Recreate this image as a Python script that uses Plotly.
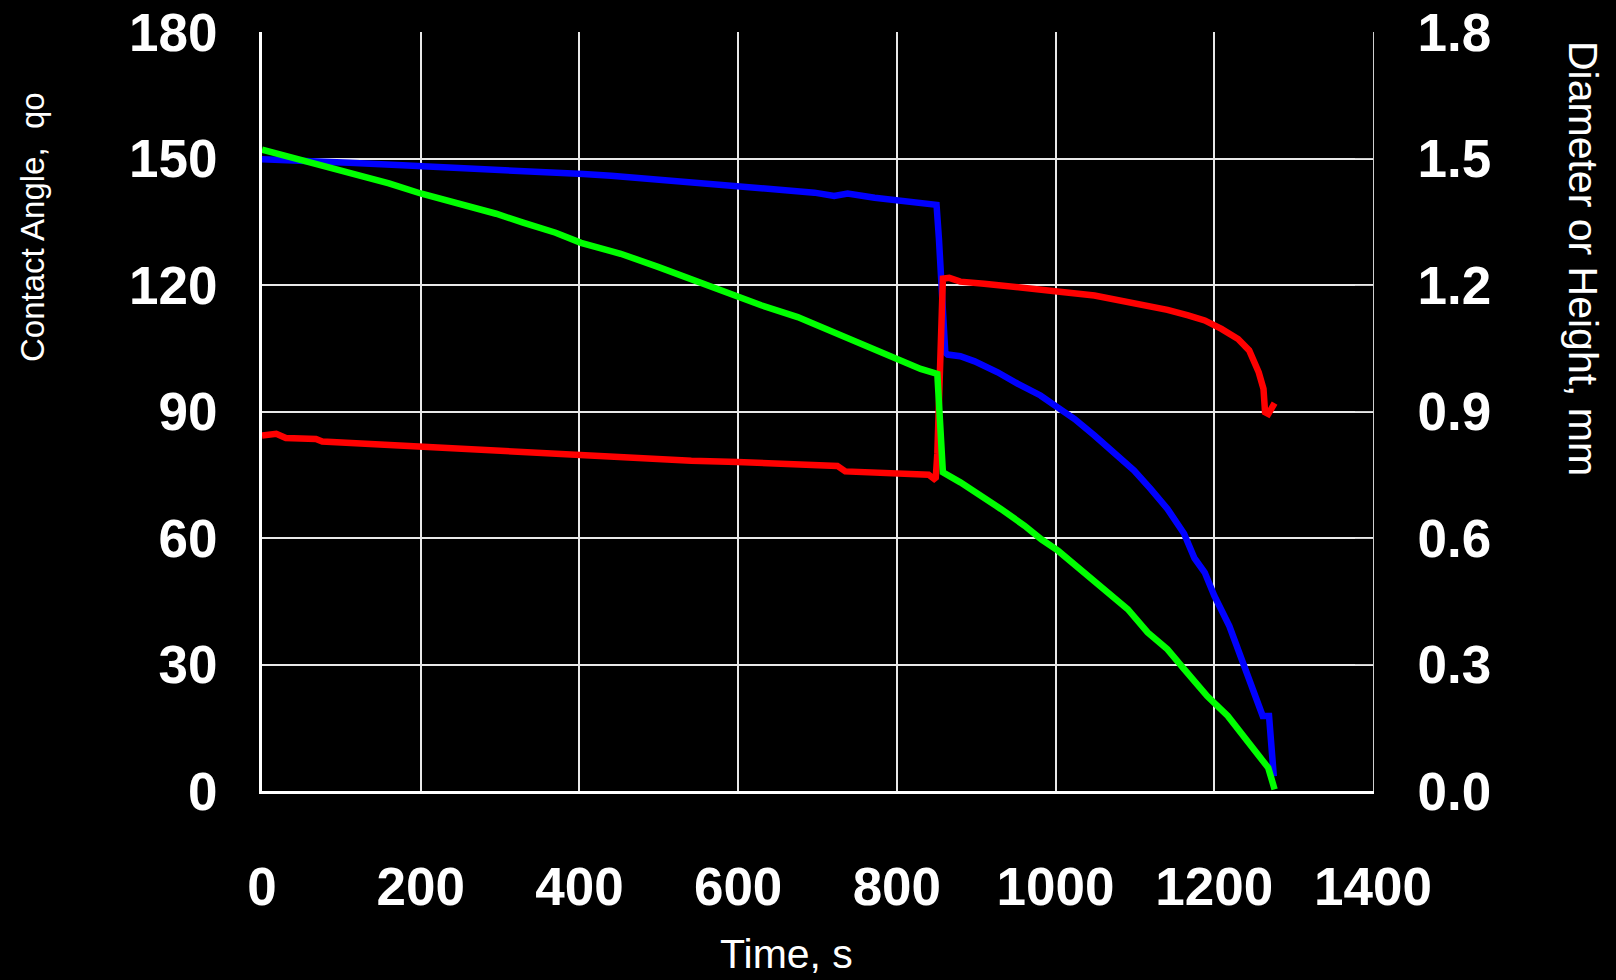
import plotly.graph_objects as go

# ---- data ----
angle_t = [0, 18, 30, 68, 76, 114, 160, 207, 261, 320, 379, 427, 478, 541, 599, 671, 725, 735, 800,
           840, 847, 849, 851, 856, 858, 866, 880, 910, 939, 973, 1011, 1049, 1083, 1112, 1141, 1167,
           1188, 1209, 1230, 1244, 1256, 1262, 1264, 1268, 1276]
angle_deg = [84.3, 84.7, 83.7, 83.5, 82.9, 82.5, 82.1, 81.5, 80.9, 80.5, 79.9, 79.5, 78.9, 78.3, 78.0,
             77.6, 77.1, 75.8, 75.5, 75.0, 74.0, 74.3, 80.0, 110.0, 121.5, 121.7, 120.8, 120.3, 119.8,
             119.0, 118.3, 117.5, 116.3, 115.2, 114.1, 112.8, 111.6, 109.6, 107.2, 104.5, 99.3, 95.4,
             89.8, 89.4, 92.0]

diam_t = [0, 80, 110, 177, 240, 299, 350, 405, 440, 478, 524, 553, 583, 612, 654, 696, 721, 738, 772,
          801, 818, 850, 853, 855, 858, 861, 864, 880, 898, 927, 952, 981, 1003, 1024, 1049, 1074, 1099,
          1120, 1141, 1162, 1175, 1188, 1200, 1219, 1225, 1238, 1246, 1261, 1269, 1271, 1273, 1275]
diam_mm = [1.498, 1.494, 1.490, 1.484, 1.479, 1.474, 1.468, 1.463, 1.459, 1.453, 1.447, 1.442, 1.437,
           1.432, 1.426, 1.419, 1.411, 1.417, 1.407, 1.400, 1.395, 1.390, 1.31, 1.22, 1.10, 1.04, 1.035,
           1.031, 1.019, 0.993, 0.966, 0.938, 0.909, 0.882, 0.843, 0.803, 0.760, 0.716, 0.669, 0.610,
           0.552, 0.518, 0.463, 0.391, 0.360, 0.296, 0.249, 0.178, 0.178, 0.138, 0.075, 0.035]

height_t = [0, 34, 76, 118, 160, 200, 244, 295, 329, 370, 402, 452, 499, 545, 578, 629, 675, 725, 759,
            788, 818, 830, 851, 858, 880, 910, 931, 961, 982, 1003, 1036, 1061, 1091, 1116, 1141, 1162,
            1191, 1217, 1243, 1268, 1276]
height_mm = [1.521, 1.504, 1.483, 1.460, 1.441, 1.417, 1.395, 1.369, 1.348, 1.324, 1.300, 1.274, 1.243,
             1.211, 1.185, 1.152, 1.124, 1.084, 1.058, 1.037, 1.013, 1.001, 0.989, 0.756, 0.732, 0.696,
             0.669, 0.629, 0.597, 0.570, 0.518, 0.479, 0.431, 0.376, 0.336, 0.289, 0.225, 0.178, 0.114,
             0.055, 0.004]

x_ticks = [0, 200, 400, 600, 800, 1000, 1200, 1400]
angle_ticks = [0, 30, 60, 90, 120, 150, 180]
mm_ticks = [0.0, 0.3, 0.6, 0.9, 1.2, 1.5, 1.8]
mm_labels = ["0.0", "0.3", "0.6", "0.9", "1.2", "1.5", "1.8"]
grid_ticks = [0.3, 0.6, 0.9, 1.2, 1.5]

# ---- styling ----
W, H = 1616, 980
L, R, T, B = 262, 1373, 32, 791
tick_font = dict(family="Liberation Sans, Arial, sans-serif", size=53, color="white", weight="bold")
title_family = "Liberation Sans, Arial, sans-serif"
LW = 6.5

fig = go.Figure()
fig.add_trace(go.Scatter(x=diam_t, y=diam_mm, mode="lines", line=dict(color="#0000FF", width=LW),
                         xaxis="x", yaxis="y", showlegend=False))
fig.add_trace(go.Scatter(x=angle_t, y=angle_deg, mode="lines", line=dict(color="#FF0000", width=LW),
                         xaxis="x", yaxis="y2", showlegend=False))
fig.add_trace(go.Scatter(x=height_t, y=height_mm, mode="lines", line=dict(color="#00FF00", width=LW),
                         xaxis="x", yaxis="y3", showlegend=False))

fig.update_layout(
    width=W, height=H,
    paper_bgcolor="black", plot_bgcolor="black",
    margin=dict(l=L, r=W - R, t=T, b=H - B, pad=0),
    xaxis=dict(range=[0, 1400], tickvals=x_ticks, showgrid=True, gridcolor="#e8e8e8", gridwidth=2,
               showline=True, linecolor="white", linewidth=3, ticks="", zeroline=False,
               tickfont=tick_font, ticklabelstandoff=47, automargin=False),
    yaxis=dict(range=[0, 1.8], tickvals=mm_ticks, ticktext=mm_labels, side="right",
               showgrid=False, zeroline=False, showline=True, linecolor="#cfcfcf", linewidth=1,
               ticks="inside", ticklen=18, tickcolor="#cfcfcf", tickwidth=1,
               tickfont=tick_font, ticklabelstandoff=33, automargin=False),
    yaxis2=dict(range=[0, 180], tickvals=angle_ticks, overlaying="y", side="left",
                showgrid=False, zeroline=False, showline=True, linecolor="white", linewidth=3,
                ticks="", tickfont=tick_font, ticklabelstandoff=31, automargin=False),
    yaxis3=dict(range=[0, 1.8], tickvals=grid_ticks, overlaying="y", side="right",
                showgrid=True, gridcolor="#e8e8e8", gridwidth=2, zeroline=False, showline=False,
                ticks="", showticklabels=False, automargin=False),
    annotations=[
        dict(text="Time, s", xref="paper", yref="paper", x=(786 - L) / (R - L), y=(B - 954) / (B - T),
             xanchor="center", yanchor="middle", showarrow=False,
             font=dict(family=title_family, size=41, color="white")),
        dict(text="Contact Angle,  qo", xref="paper", yref="paper", x=(33 - L) / (R - L),
             y=(B - 227) / (B - T), xanchor="center", yanchor="middle", showarrow=False, textangle=-90,
             font=dict(family=title_family, size=33, color="white")),
        dict(text="Diameter or Height, mm", xref="paper", yref="paper", x=(1583 - L) / (R - L),
             y=(B - 258) / (B - T), xanchor="center", yanchor="middle", showarrow=False, textangle=90,
             font=dict(family=title_family, size=41, color="white")),
    ],
)

fig.write_html(
    "out.html",
    config={"displayModeBar": False},
    post_script="document.body.style.margin='0';document.body.style.background='black';",
)
